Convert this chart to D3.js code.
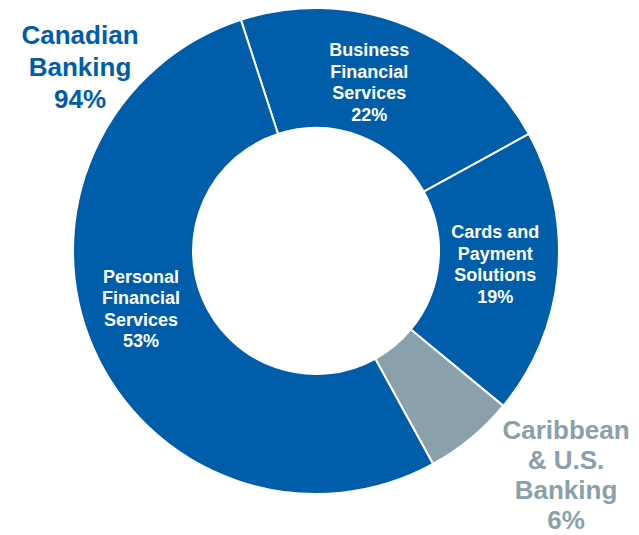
<!DOCTYPE html>
<html>
<head>
<meta charset="utf-8">
<script src="https://cdn.jsdelivr.net/npm/d3@7"></script>
<style>
  html, body { margin: 0; padding: 0; background: #fff; }
  svg { display: block; font-family: "Liberation Sans", Arial, sans-serif; }
</style>
</head>
<body>
<svg id="chart" width="639" height="535"></svg>
<script>
// Segment breakdown (percent of total)
const segments = ["Business Financial Services", "Cards and Payment Solutions", "Caribbean & U.S. Banking", "Personal Financial Services"];
const segmentLines = [
  ["Business", "Financial", "Services"],
  ["Cards and", "Payment", "Solutions"],
  [],
  ["Personal", "Financial", "Services"]
];
const shares = [22, 19, 6, 53];
const groups = ["Canadian Banking", "Caribbean & U.S. Banking"];
const groupShares = [94, 6];

const BLUE = "#005DAA";
const GREY = "#8AA0AB";

const svg = d3.select("#chart");
const cx = 316, cy = 251;
const rOuter = 243, rInner = 123;

const data = segments.map((name, i) => ({ name, value: shares[i], lines: segmentLines[i] }));

const color = d3.scaleOrdinal()
  .domain(segments)
  .range([BLUE, BLUE, GREY, BLUE]);

const start = -18 * Math.PI / 180;
const pie = d3.pie()
  .value(d => d.value)
  .sort(null)
  .startAngle(start)
  .endAngle(start + 2 * Math.PI);

const arc = d3.arc().innerRadius(rInner).outerRadius(rOuter);

const g = svg.append("g").attr("transform", `translate(${cx},${cy})`);

const arcs = pie(data);

g.selectAll("path.slice")
  .data(arcs)
  .join("path")
  .attr("class", "slice")
  .attr("d", arc)
  .attr("fill", d => color(d.data.name))
  .attr("stroke", "#fff")
  .attr("stroke-width", 2)
  .attr("stroke-linejoin", "round");

// In-ring labels: centred near each slice centroid with small nudges
const nudge = {
  "Business Financial Services": [-14, 1],
  "Cards and Payment Solutions": [-3, -4],
  "Personal Financial Services": [-7, -15]
};
const lh = 21.5;
arcs.filter(d => d.data.lines.length).forEach(d => {
  const [x, y] = arc.centroid(d);
  const [nx, ny] = nudge[d.data.name] || [0, 0];
  const lines = d.data.lines.concat([d.data.value + "%"]);
  const firstBase = y + ny - (lines.length - 1) / 2 * lh + 6.5;
  const t = g.append("text")
    .attr("text-anchor", "middle")
    .attr("fill", "#fff")
    .attr("font-weight", "bold")
    .attr("font-size", 18);
  lines.forEach((ln, i) => {
    t.append("tspan")
      .attr("x", x + nx)
      .attr("y", firstBase + i * lh)
      .text(ln);
  });
});

// Group labels outside the ring
function groupLabel(lines, x, y0, step, fill) {
  const t = svg.append("text")
    .attr("text-anchor", "middle")
    .attr("fill", fill)
    .attr("font-weight", "bold")
    .attr("font-size", 26);
  lines.forEach((ln, i) => {
    t.append("tspan").attr("x", x).attr("y", y0 + i * step).text(ln);
  });
}

groupLabel(["Canadian", "Banking", groupShares[0] + "%"], 80, 44, 32, BLUE);
groupLabel(["Caribbean", "& U.S.", "Banking", groupShares[1] + "%"], 566, 439, 30, GREY);
</script>
</body>
</html>
